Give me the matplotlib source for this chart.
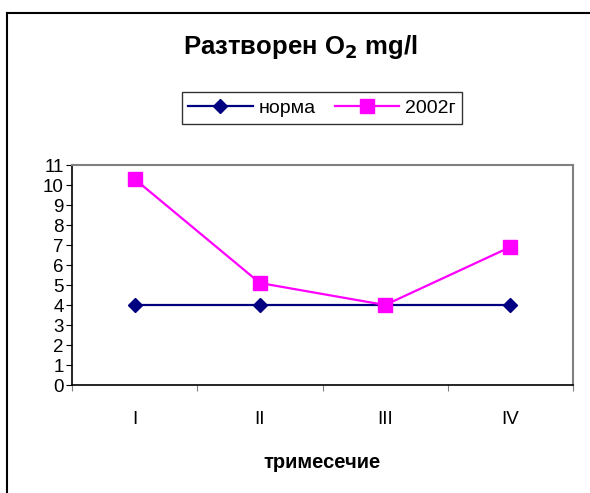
import matplotlib.pyplot as plt
from matplotlib.lines import Line2D

plt.rcParams['font.family'] = ['Liberation Sans', 'DejaVu Sans']

# data
quarters = ['I', 'II', 'III', 'IV']
norma = [4, 4, 4, 4]
y2002 = [10.3, 5.1, 4.0, 6.9]

fig = plt.figure(figsize=(5.9, 4.93), dpi=100)
fig.patch.set_facecolor('white')

# outer chart border (only top and left visible)
fig.add_artist(Line2D([7/590, 1], [1 - 13/493, 1 - 13/493], color='black', lw=1.5))
fig.add_artist(Line2D([7/590, 7/590], [0, 1 - 13/493], color='black', lw=1.5))

ax = fig.add_axes([72/590, 108/493, 501/590, 220/493])
x = range(1, len(quarters) + 1)
ax.plot(x, norma, color='#000080', lw=1.6, marker='D', ms=7, label='норма', zorder=3)
ax.plot(x, y2002, color='#FF00FF', lw=1.6, marker='s', ms=10, label='2002г', zorder=3)

ax.set_xlim(0.5, 4.5)
ax.set_ylim(0, 11)
ax.set_yticks(range(0, 12))
ax.set_xticks([0.5, 1.5, 2.5, 3.5, 4.5])
ax.set_xticklabels([])
ax.set_xticks(list(x), minor=True)
ax.set_xticklabels(quarters, minor=True)
ax.tick_params(axis='x', which='major', length=4, direction='out', color='#808080')
ax.tick_params(axis='x', which='minor', length=0, pad=19, labelsize=13.5)
ax.tick_params(axis='y', length=4, direction='out', labelsize=13.5, pad=2)

for side in ['left', 'bottom']:
    ax.spines[side].set_color('black')
    ax.spines[side].set_linewidth(1.2)
for side in ['top', 'right']:
    ax.spines[side].set_color('#808080')
    ax.spines[side].set_linewidth(1.5)

ax.set_xlabel('тримесечие', fontsize=14.5, fontweight='bold', labelpad=18)

fig.text(300/590, 1 - 47/493, 'Разтворен O$_\\mathbf{2}$ mg/l', ha='center', va='center',
         fontsize=18.5, fontweight='bold')

leg = fig.legend(loc='center', bbox_to_anchor=(322/590, 1 - 108/493), ncol=2,
                 frameon=True, fancybox=False, edgecolor='black', fontsize=14,
                 handlelength=3.3, columnspacing=1.0, handletextpad=0.3,
                 borderpad=0.35)
leg.get_frame().set_linewidth(1.0)

fig.savefig('out.png', dpi=100)
